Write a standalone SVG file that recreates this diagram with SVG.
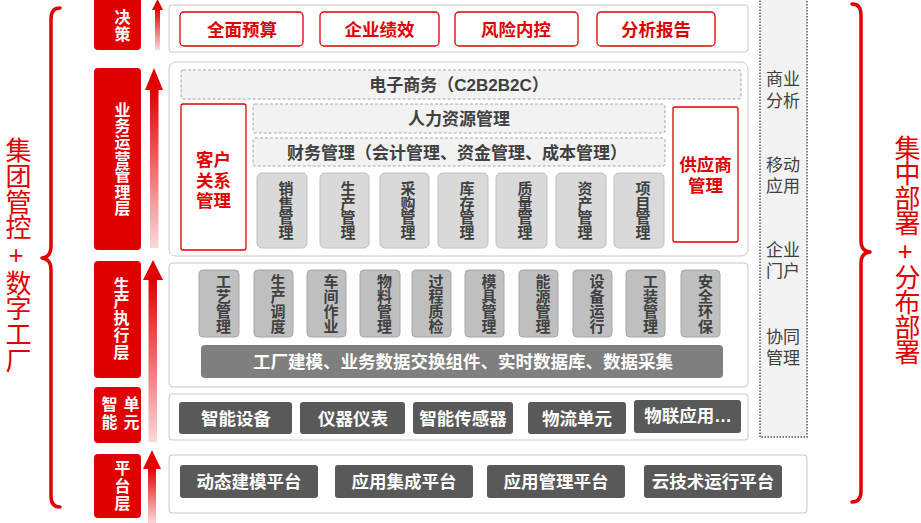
<svg xmlns="http://www.w3.org/2000/svg" width="921" height="523" viewBox="0 0 921 523">
<defs>
<linearGradient id="fade" x1="0" y1="0" x2="0" y2="1">
<stop offset="0" stop-color="#e00000"/>
<stop offset="1" stop-color="#fbd9d9"/>
</linearGradient>
<style>
text{font-family:"Liberation Sans","Noto Sans CJK SC",sans-serif;dominant-baseline:central;text-anchor:middle}
.vt{writing-mode:vertical-rl;text-orientation:upright}
.panel{fill:#fff;stroke:#c8c8c8;stroke-width:1}
.redbox{fill:#fff;stroke:#e00000;stroke-width:1.3}
.redtxt{fill:#e00000;font-weight:bold;font-size:17.5px}
.tab{fill:#e00000}
.tabtxt{fill:#fff;font-weight:bold;font-size:16px}
.dash{fill:#f2f2f2;stroke:#a6a6a6;stroke-width:1;stroke-dasharray:3 2}
.dashtxt{fill:#404040;font-weight:bold;font-size:17px}
.lt{fill:#d9d9d9;stroke:#bfbfbf;stroke-width:1}
.md{fill:#bfbfbf;stroke:#a6a6a6;stroke-width:1}
.vtxt{fill:#404040;font-weight:bold;font-size:15px}
.dk{fill:#595959}
.bar{fill:#7f7f7f}
.wtxt{fill:#fff;font-weight:bold;font-size:17.5px}
.side{fill:#f2f2f2;stroke:#595959;stroke-width:1.5;stroke-dasharray:1.5 1.5}
.sidetxt{fill:#404040;font-size:17px}
.brace{fill:none;stroke:#e00000;stroke-width:3.5;stroke-linecap:round;stroke-linejoin:round}
.bigred{fill:#e00000;font-size:26px}
.arrowhead{fill:#e00000}
.shaft{fill:url(#fade)}
</style>
</defs>

<!-- Left label and brace -->
<g id="left-label">
<text class="bigred vt" x="16" y="255" letter-spacing="-0.3">集团管控+数字工厂</text>
<path class="brace" d="M60,8 Q51,8 51,19 L51,246 Q51,257 42,258 Q51,259 51,270 L51,496 Q51,507 60,507"/>
</g>

<!-- Right label and brace -->
<g id="right-label">
<text class="bigred vt" x="905" y="250" letter-spacing="-1">集中部署+分布部署</text>
<path class="brace" d="M852,4 Q861,4 861,15 L861,241 Q861,251 870,252 Q861,253 861,263 L861,491 Q861,502 852,502"/>
</g>

<!-- Layer tabs -->
<g id="tab-decision">
<rect class="tab" x="94" y="-4" width="47" height="54" rx="4"/>
<text class="tabtxt vt" font-size="17" letter-spacing="1" x="121" y="26">决策</text>
</g>
<g id="tab-business">
<rect class="tab" x="94" y="68" width="47" height="182" rx="4"/>
<text class="tabtxt vt" letter-spacing="0.4" x="121" y="159">业务运营管理层</text>
</g>
<g id="tab-production">
<rect class="tab" x="94" y="261" width="47" height="117" rx="4"/>
<text class="tabtxt vt" letter-spacing="0.8" x="120" y="318.5">生产执行层</text>
</g>
<g id="tab-smart">
<rect class="tab" x="94" y="387" width="47" height="56" rx="4"/>
<text class="tabtxt vt" font-size="17" letter-spacing="2" x="108" y="413.5">智能</text>
<text class="tabtxt vt" font-size="17" letter-spacing="2" x="130" y="413.5">单元</text>
</g>
<g id="tab-platform">
<rect class="tab" x="94" y="454" width="47" height="64" rx="4"/>
<text class="tabtxt vt" font-size="17" letter-spacing="1.5" x="121" y="486.5">平台层</text>
</g>

<!-- Upward arrows -->
<g id="connectors">
<rect class="shaft" x="155" y="9" width="5" height="41"/>
<path class="arrowhead" d="M152,10 L157.5,-1 L163,10 Z"/>
<rect class="shaft" x="150" y="89" width="8.5" height="159"/>
<path class="arrowhead" d="M145,90 L154,68 L163,90 Z"/>
<rect class="shaft" x="148.5" y="279" width="8.5" height="163"/>
<path class="arrowhead" d="M143,280 L153,260 L163,280 Z"/>
<rect class="shaft" x="148" y="468" width="8" height="55"/>
<path class="arrowhead" d="M143,469 L152,450 L161,469 Z"/>
</g>

<!-- Right side dotted column -->
<g id="side-column">
<rect class="side" x="760" y="-3" width="47" height="440"/>
<text class="sidetxt"><tspan x="783" y="79">商业</tspan><tspan x="783" y="101">分析</tspan></text>
<text class="sidetxt"><tspan x="783" y="165">移动</tspan><tspan x="783" y="186">应用</tspan></text>
<text class="sidetxt"><tspan x="783" y="250">企业</tspan><tspan x="783" y="271">门户</tspan></text>
<text class="sidetxt"><tspan x="783" y="337">协同</tspan><tspan x="783" y="358">管理</tspan></text>
</g>

<!-- Decision layer -->
<g id="layer-decision">
<rect class="panel" x="169" y="5" width="579" height="47" rx="3"/>
<g id="n-budget"><rect class="redbox" x="180" y="12" width="123" height="34" rx="4"/><text class="redtxt" x="242" y="30">全面预算</text></g>
<g id="n-performance"><rect class="redbox" x="320" y="12" width="119" height="34" rx="4"/><text class="redtxt" x="379.5" y="30">企业绩效</text></g>
<g id="n-risk"><rect class="redbox" x="455" y="12" width="123" height="34" rx="4"/><text class="redtxt" x="516" y="30">风险内控</text></g>
<g id="n-report"><rect class="redbox" x="597" y="12" width="118" height="34" rx="4"/><text class="redtxt" x="656" y="30">分析报告</text></g>
</g>

<!-- Business operation layer -->
<g id="layer-business">
<rect class="panel" x="169" y="62" width="579" height="194" rx="7"/>
<g id="n-ecommerce"><rect class="dash" x="181" y="70" width="560" height="29" rx="2"/><text class="dashtxt" x="459" y="85.5">电子商务（C2B2B2C）</text></g>
<g id="n-crm"><rect class="redbox" x="181" y="104" width="65" height="146" rx="2"/><text class="redtxt"><tspan x="213.5" y="159.5">客户</tspan><tspan x="213.5" y="180.5">关系</tspan><tspan x="213.5" y="201">管理</tspan></text></g>
<g id="n-hr"><rect class="dash" x="253" y="104" width="412" height="29" rx="2"/><text class="dashtxt" x="459" y="119.5">人力资源管理</text></g>
<g id="n-finance"><rect class="dash" x="253" y="138" width="412" height="28" rx="2"/><text class="dashtxt" x="457" y="153">财务管理（会计管理、资金管理、成本管理）</text></g>
<g id="n-sales"><rect class="lt" x="257" y="173" width="50" height="75" rx="5"/><text class="vtxt vt" letter-spacing="-0.5" x="285" y="210">销售管理</text></g>
<g id="n-prod"><rect class="lt" x="320" y="173" width="49" height="75" rx="5"/><text class="vtxt vt" letter-spacing="-0.5" x="347" y="210">生产管理</text></g>
<g id="n-purchase"><rect class="lt" x="380" y="173" width="49" height="75" rx="5"/><text class="vtxt vt" letter-spacing="-0.5" x="407" y="210">采购管理</text></g>
<g id="n-stock"><rect class="lt" x="438" y="173" width="50" height="75" rx="5"/><text class="vtxt vt" letter-spacing="-0.5" x="466" y="210">库存管理</text></g>
<g id="n-quality"><rect class="lt" x="496" y="173" width="51" height="75" rx="5"/><text class="vtxt vt" letter-spacing="-0.5" x="524" y="210">质量管理</text></g>
<g id="n-asset"><rect class="lt" x="556" y="173" width="50" height="75" rx="5"/><text class="vtxt vt" letter-spacing="-0.5" x="584" y="210">资产管理</text></g>
<g id="n-project"><rect class="lt" x="614" y="173" width="50" height="75" rx="5"/><text class="vtxt vt" letter-spacing="-0.5" x="642" y="210">项目管理</text></g>
<g id="n-srm"><rect class="redbox" x="673" y="107" width="65" height="135" rx="2"/><text class="redtxt"><tspan x="705.5" y="165">供应商</tspan><tspan x="705.5" y="185.5">管理</tspan></text></g>
</g>

<!-- Production execution layer -->
<g id="layer-production">
<rect class="panel" x="169" y="263" width="579" height="124" rx="4"/>
<g id="n-craft"><rect class="md" x="199" y="270" width="40" height="67" rx="4"/><text class="vtxt vt" x="222.5" y="303.5">工艺管理</text></g>
<g id="n-schedule"><rect class="md" x="254" y="270" width="39" height="67" rx="4"/><text class="vtxt vt" x="277" y="303.5">生产调度</text></g>
<g id="n-workshop"><rect class="md" x="307" y="270" width="39" height="67" rx="4"/><text class="vtxt vt" x="330" y="303.5">车间作业</text></g>
<g id="n-material"><rect class="md" x="360" y="270" width="40" height="67" rx="4"/><text class="vtxt vt" x="383.5" y="303.5">物料管理</text></g>
<g id="n-inspect"><rect class="md" x="412" y="270" width="39" height="67" rx="4"/><text class="vtxt vt" x="435" y="303.5">过程质检</text></g>
<g id="n-mold"><rect class="md" x="465" y="270" width="39" height="67" rx="4"/><text class="vtxt vt" x="488" y="303.5">模具管理</text></g>
<g id="n-energy"><rect class="md" x="519" y="270" width="39" height="67" rx="4"/><text class="vtxt vt" x="542" y="303.5">能源管理</text></g>
<g id="n-equipment"><rect class="md" x="573" y="270" width="39" height="67" rx="4"/><text class="vtxt vt" x="596" y="303.5">设备运行</text></g>
<g id="n-tooling"><rect class="md" x="626" y="270" width="39" height="67" rx="4"/><text class="vtxt vt" x="649.5" y="303.5">工装管理</text></g>
<g id="n-safety"><rect class="md" x="681" y="270" width="39" height="67" rx="4"/><text class="vtxt vt" x="704.5" y="303.5">安全环保</text></g>
<g id="n-factory-bar"><rect class="bar" x="201" y="345" width="522" height="33" rx="4"/><text class="wtxt" x="463" y="362">工厂建模、业务数据交换组件、实时数据库、数据采集</text></g>
</g>

<!-- Smart unit layer -->
<g id="layer-smart">
<rect class="panel" x="169" y="394" width="579" height="46" rx="3"/>
<g id="n-device"><rect class="dk" x="179" y="402" width="113" height="32" rx="3"/><text class="wtxt" x="236" y="418.5">智能设备</text></g>
<g id="n-instrument"><rect class="dk" x="300" y="402" width="105" height="32" rx="3"/><text class="wtxt" x="353" y="418.5">仪器仪表</text></g>
<g id="n-sensor"><rect class="dk" x="413" y="402" width="100" height="32" rx="3"/><text class="wtxt" x="463" y="418.5">智能传感器</text></g>
<g id="n-logistics"><rect class="dk" x="528" y="402" width="98" height="32" rx="3"/><text class="wtxt" x="577" y="418.5">物流单元</text></g>
<g id="n-iot"><rect class="dk" x="634" y="400" width="107" height="33" rx="3"/><text class="wtxt" font-size="15" x="688" y="416">物联应用…</text></g>
</g>

<!-- Platform layer -->
<g id="layer-platform">
<rect class="panel" x="169" y="455" width="638" height="58" rx="3"/>
<g id="n-modeling"><rect class="dk" x="180" y="465" width="138" height="33" rx="3"/><text class="wtxt" x="249" y="482">动态建模平台</text></g>
<g id="n-integration"><rect class="dk" x="335" y="465" width="138" height="33" rx="3"/><text class="wtxt" x="404" y="482">应用集成平台</text></g>
<g id="n-appmgmt"><rect class="dk" x="487" y="465" width="138" height="33" rx="3"/><text class="wtxt" x="556" y="482">应用管理平台</text></g>
<g id="n-cloud"><rect class="dk" x="644" y="465" width="138" height="33" rx="3"/><text class="wtxt" x="713" y="482">云技术运行平台</text></g>
</g>
</svg>
